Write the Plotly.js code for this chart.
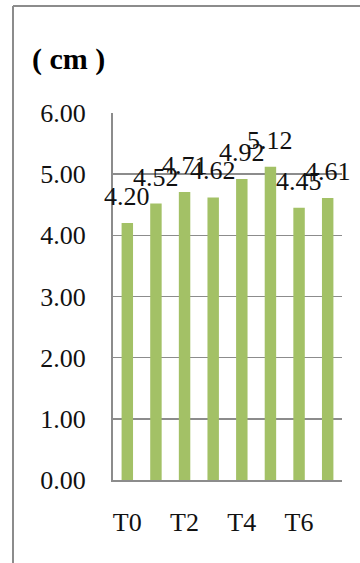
<!DOCTYPE html>
<html>
<head>
<meta charset="utf-8">
<script src="https://cdn.plot.ly/plotly-3.0.1.min.js"></script>
<style>html,body{margin:0;padding:0;background:#fff;}#chart{width:360px;height:563px;}</style>
</head>
<body>
<div id="chart"></div>
<script>
var categories = ['T0','T1','T2','T3','T4','T5','T6','T7'];
var values = [4.20, 4.52, 4.71, 4.62, 4.92, 5.12, 4.45, 4.61];
var xTickLabels = ['T0','T2','T4','T6'];
var yTickValues = [0, 1, 2, 3, 4, 5, 6];

var serif = 'Liberation Serif, DejaVu Serif, serif';

var trace = {
  type: 'bar',
  x: categories,
  y: values,
  marker: {color: '#a3c166'},
  width: 0.4,
  hoverinfo: 'none'
};

var annotations = categories.map(function (c, i) {
  return {
    x: c, y: values[i], xref: 'x', yref: 'y',
    text: values[i].toFixed(2),
    showarrow: false, yanchor: 'bottom', xanchor: 'center',
    yshift: 10,
    font: {family: serif, size: 26, color: '#111'}
  };
});

var layout = {
  width: 360, height: 563,
  margin: {l: 113, r: 18, t: 113, b: 83},
  paper_bgcolor: '#ffffff', plot_bgcolor: '#ffffff',
  showlegend: false,
  font: {family: serif},
  title: {
    text: '<b>( cm )</b>',
    font: {family: serif, size: 30, color: '#000'},
    x: 32/360, xref: 'container', xanchor: 'left',
    y: 1 - 58/563, yref: 'container', yanchor: 'middle'
  },
  xaxis: {
    type: 'category',
    tickmode: 'array', tickvals: xTickLabels, ticktext: xTickLabels,
    showgrid: false, showline: true, linecolor: '#8c8c8c', linewidth: 2,
    ticks: '', ticklabelstandoff: 18,
    tickfont: {family: serif, size: 26, color: '#111'},
    range: [-0.5, 7.5]
  },
  yaxis: {
    range: [0, 6],
    tickmode: 'array', tickvals: yTickValues,
    tickformat: '.2f',
    showgrid: true, gridcolor: '#8c8c8c', gridwidth: 1.5,
    showline: true, linecolor: '#8c8c8c', linewidth: 2,
    zeroline: false,
    ticks: '', ticklabelstandoff: 20,
    tickfont: {family: serif, size: 26, color: '#111'}
  },
  annotations: annotations,
  shapes: [
    {type: 'line', xref: 'paper', yref: 'paper', x0: -100/229, x1: -100/229, y0: -83/367, y1: 1 + 107/367,
     line: {color: '#8c8c8c', width: 2}},
    {type: 'line', xref: 'paper', yref: 'paper', x0: -100/229, x1: 1 + 18/229, y0: 1 + 107/367, y1: 1 + 107/367,
     line: {color: '#8c8c8c', width: 2}}
  ]
};

Plotly.newPlot('chart', [trace], layout, {displayModeBar: false, staticPlot: true});
</script>
</body>
</html>
